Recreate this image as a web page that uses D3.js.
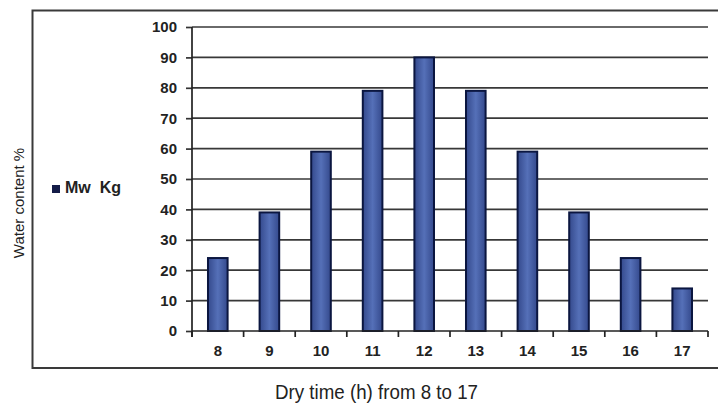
<!DOCTYPE html>
<html><head><meta charset="utf-8">
<script src="https://cdn.jsdelivr.net/npm/d3@7"></script>
<style>
html,body{margin:0;padding:0;background:#fff;}
svg{display:block;}
text{font-family:"Liberation Sans",Arial,sans-serif;}
</style></head>
<body>
<svg id="chart" width="718" height="405"></svg>
<script>
const categories = ["8","9","10","11","12","13","14","15","16","17"];
const values = [24, 39, 59, 79, 90, 79, 59, 39, 24, 14];
const yTicks = [0,10,20,30,40,50,60,70,80,90,100];
const seriesName = "Mw  Kg";
const xTitle = "Dry time (h) from 8 to 17";
const yTitle = "Water content %";

const svg = d3.select("#chart");
const plot = {left:192, right:708, top:27, bottom:331};

const x = d3.scaleBand().domain(categories).range([plot.left, plot.right]).paddingInner(0.62).paddingOuter(0.31);
const xb = d3.scaleBand().domain(categories).range([plot.left, plot.right]);
const y = d3.scaleLinear().domain([0,100]).range([plot.bottom, plot.top]);

const defs = svg.append("defs");
const g = defs.append("linearGradient").attr("id","barGrad").attr("x1","0").attr("x2","1").attr("y1","0").attr("y2","0");
g.append("stop").attr("offset","0").attr("stop-color","#34498c");
g.append("stop").attr("offset","0.5").attr("stop-color","#5570b8");
g.append("stop").attr("offset","1").attr("stop-color","#34498c");

// outer frame (left, top, bottom; right edge cropped)
svg.append("path")
  .attr("d", `M720,10.5 H32.5 V368 H720`)
  .attr("fill","none").attr("stroke","#3a3a3a").attr("stroke-width",2);

// gridlines
svg.append("g").selectAll("line").data(yTicks.filter(d=>d>0)).join("line")
  .attr("x1", plot.left).attr("x2", plot.right)
  .attr("y1", d=>y(d)).attr("y2", d=>y(d))
  .attr("stroke","#383838").attr("stroke-width",1.7);

// y axis
const yAxis = svg.append("g").attr("transform",`translate(${plot.left},0)`)
  .call(d3.axisLeft(y).tickValues(yTicks).tickSize(6).tickPadding(9).tickSizeOuter(0));
yAxis.select(".domain").remove();
yAxis.append("line").attr("x1",0).attr("x2",0).attr("y1",plot.top).attr("y2",plot.bottom+6)
  .attr("stroke","#222").attr("stroke-width",1.7);
yAxis.selectAll(".tick line").attr("stroke","#333").attr("stroke-width",1.7);
yAxis.selectAll(".tick text").attr("font-size",15).attr("font-weight","bold").attr("fill","#222")
  .attr("font-family","'DejaVu Sans',sans-serif");

// bars
svg.append("g").selectAll("rect").data(values).join("rect")
  .attr("x",(d,i)=>x(categories[i]))
  .attr("width",x.bandwidth())
  .attr("y",d=>y(d))
  .attr("height",d=>y(0)-y(d))
  .attr("fill","url(#barGrad)")
  .attr("stroke","#0b1640").attr("stroke-width",2);

// x axis
const xAxisG = svg.append("g").attr("transform",`translate(0,${plot.bottom})`);
xAxisG.append("line").attr("x1",plot.left).attr("x2",plot.right).attr("y1",0).attr("y2",0)
  .attr("stroke","#222").attr("stroke-width",1.7);
const bounds = categories.map(c=>xb(c)).concat([plot.right]);
xAxisG.selectAll("line.t").data(bounds).join("line").attr("class","t")
  .attr("x1",d=>d).attr("x2",d=>d).attr("y1",0).attr("y2",6)
  .attr("stroke","#222").attr("stroke-width",1.7);
xAxisG.selectAll("text").data(categories).join("text")
  .attr("x",d=>xb(d)+xb.bandwidth()/2).attr("y",25)
  .attr("text-anchor","middle").attr("font-size",15).attr("font-weight","bold").attr("fill","#222")
  .text(d=>d);

// titles
svg.append("text").attr("x",275).attr("y",399)
  .attr("font-size",20).attr("fill","#222")
  .attr("textLength",203).attr("lengthAdjust","spacingAndGlyphs").text(xTitle);
svg.append("text").attr("transform","translate(24,203) rotate(-90)").attr("text-anchor","middle")
  .attr("font-size",15).attr("fill","#222").text(yTitle);

// legend
svg.append("rect").attr("x",52).attr("y",185).attr("width",8).attr("height",8).attr("fill","#141c48");
svg.append("text").attr("x",65).attr("y",193).attr("font-size",16).attr("font-weight","bold")
  .attr("fill","#222").text(seriesName.replace(/ /g,"\u00A0"));
</script>
</body></html>
